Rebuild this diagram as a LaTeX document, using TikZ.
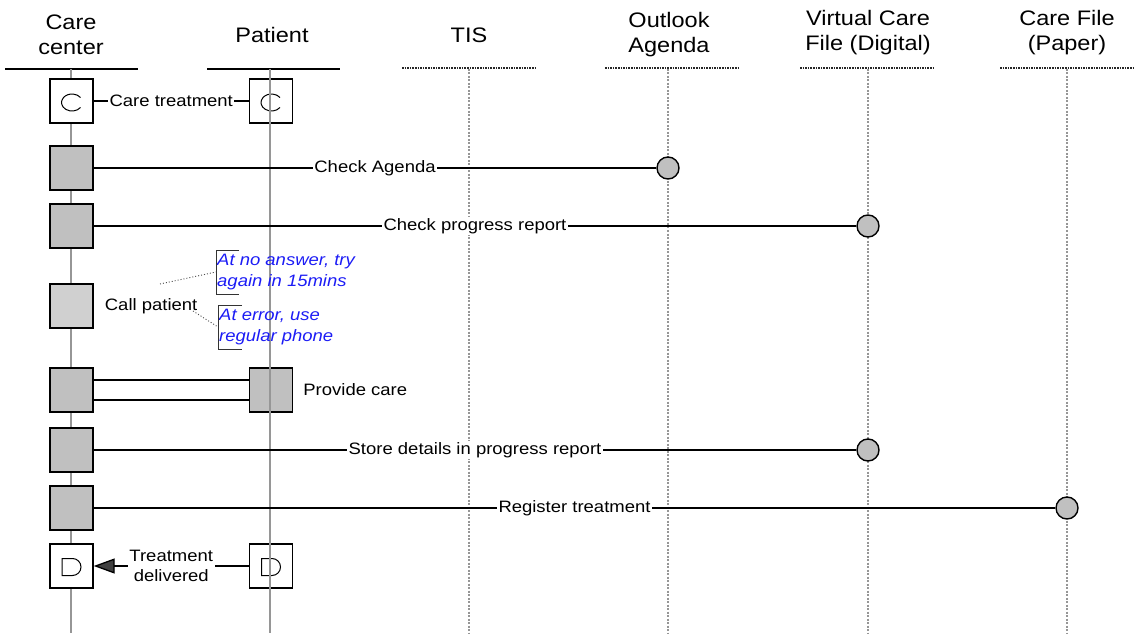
\documentclass[tikz,border=0pt]{standalone}
\usepackage{fontspec}
\setmainfont{Liberation Sans}[FakeStretch=1.12]
\usetikzlibrary{arrows.meta,calc}

\definecolor{boxgrey}{RGB}{192,192,192}
\definecolor{callgrey}{RGB}{208,208,208}
\definecolor{lifegrey}{RGB}{150,150,150}
\definecolor{noteblue}{RGB}{28,28,245}

\begin{document}
\begin{tikzpicture}[x=1pt,y=-1pt,
  title/.style={font=\fontsize{21}{25}\selectfont, align=center, inner sep=0pt},
  lbl/.style={font=\fontsize{16.5}{20}\selectfont, fill=white, inner xsep=1.5pt, inner ysep=1pt},
  txt/.style={font=\fontsize{16.5}{20}\selectfont, inner sep=0pt},
  act/.style={draw=black, line width=1.4pt, minimum width=43pt, minimum height=44pt, inner sep=0pt, fill=white},
  actg/.style={act, fill=boxgrey},
  store/.style={circle, draw=black, line width=1.4pt, fill=boxgrey, minimum size=22pt, inner sep=0pt},
  life/.style={draw=lifegrey, line width=1.3pt},
  lifedot/.style={draw=lifegrey, line width=1.3pt, dash pattern=on 2pt off 1.5pt},
  head/.style={draw=black, line width=1.3pt},
  headdot/.style={draw=black!85, line width=1.3pt, dash pattern=on 1.6pt off 1pt},
  msg/.style={draw=black, line width=1.3pt},
  glyph/.style={draw=black, line width=1pt},
  note/.style={font=\fontsize{16.5}{21}\selectfont\itshape, text=noteblue, align=left, inner xsep=1pt, inner ysep=0pt},
  bracket/.style={draw=black!80, line width=1pt},
  hint/.style={draw=black!70, line width=0.9pt, dash pattern=on 1pt off 2pt}
]
\useasboundingbox (0,0) rectangle (1139,636);

% column titles
\node[title] (tcc) at (71,35)   {Care\\center};
\node[title] (tpt) at (272,35)  {Patient};
\node[title] (ttis) at (469,35) {TIS};
\node[title] (tol) at (669,35)  {Outlook\\Agenda};
\node[title] (tvc) at (868,33)  {Virtual Care\\File (Digital)};
\node[title] (tcf) at (1067,33) {Care File\\(Paper)};

% header rules
\draw[head] (5,69) -- (138,69);
\draw[head] (207,69) -- (340,69);
\draw[headdot] (402,68) -- (537,68);
\draw[headdot] (605,68) -- (738,68);
\draw[headdot] (800,68) -- (935,68);
\draw[headdot] (1000,68) -- (1135,68);

% lifeline end points
\coordinate (cctop) at (71,69);   \coordinate (ccbot) at (71,633);
\coordinate (pttop) at (270,69);  \coordinate (ptbot) at (270,633);
\coordinate (tistop) at (469,69); \coordinate (tisbot) at (469,633);
\coordinate (oltop) at (668,69);  \coordinate (olbot) at (668,633);
\coordinate (vctop) at (868,69);  \coordinate (vcbot) at (868,633);
\coordinate (cftop) at (1067,69); \coordinate (cfbot) at (1067,633);

\draw[lifedot] (tistop) -- (tisbot);
\draw[lifedot] (oltop) -- (olbot);
\draw[lifedot] (vctop) -- (vcbot);
\draw[lifedot] (cftop) -- (cfbot);
\draw[life] (cctop) -- (ccbot);

% care center activities
\node[act]  (cc0) at (71.5,101) {};
\node[actg] (cc1) at (71.5,168) {};
\node[actg] (cc2) at (71.5,226) {};
\node[act, fill=callgrey] (cc3) at (71.5,306) {};
\node[actg] (cc4) at (71.5,390) {};
\node[actg] (cc5) at (71.5,450) {};
\node[actg] (cc6) at (71.5,508) {};
\node[act]  (cc7) at (71.5,566) {};

% patient activities
\node[act]  (pt0) at (271,101) {};
\node[actg] (pt4) at (271,390) {};
\node[act]  (pt7) at (271,566) {};

% data stores
\node[store] (ol1) at (668,168) {};
\node[store] (vc2) at (868,226) {};
\node[store] (vc5) at (868,450) {};
\node[store] (cf6) at (1067,508) {};

% start (C) and delivery (D) marks
\foreach \b in {cc0,pt0}
  \draw[glyph] ([shift={(9,6.5)}]\b.center)
    arc[start angle=36, end angle=324, x radius=10.5, y radius=8.5];
\foreach \b in {cc7,pt7}
  \draw[glyph] ([shift={(-9.5,-7.5)}]\b.center) -- ++(10.5,0)
    arc[start angle=270, end angle=450, radius=8.5] -- ++(-10.5,0) -- cycle;

\draw[life] (pttop) -- (ptbot);

% messages
\draw[msg] (cc0.east) -- node[lbl] {Care treatment} (pt0.west);
\draw[msg] (cc1.east) -- node[lbl] {Check Agenda} (ol1.west);
\draw[msg] (cc2.east) -- node[lbl] {Check progress report} (vc2.west);
\draw[msg] ([yshift=10pt]cc4.east) -- ([yshift=10pt]pt4.west);
\draw[msg] ([yshift=-10pt]cc4.east) -- ([yshift=-10pt]pt4.west);
\draw[msg] (cc5.east) -- node[lbl] {Store details in progress report} (vc5.west);
\draw[msg] (cc6.east) -- node[lbl] {Register treatment} (cf6.west);
\draw[msg, -{Triangle[length=21pt, width=15pt, fill=black!75]}]
  (pt7.west) -- node[lbl, align=center, font=\fontsize{16.5}{20.5}\selectfont] {Treatment\\delivered} (cc7.east);

% activity captions
\node[txt, anchor=west] (cpl) at ([xshift=11pt]cc3.east) {Call patient};
\node[txt, anchor=west] (pcl) at ([xshift=10pt]pt4.east) {Provide care};

% annotations
\node[note, anchor=west] (n1) at (216,272) {At no answer, try\\again in 15mins};
\node[note, anchor=west] (n2) at (218,327) {At error, use\\regular phone};
\draw[bracket] ([shift={(23,-22)}]n1.west) -- ([shift={(0,-22)}]n1.west)
  -- ([shift={(0,22)}]n1.west) -- ([shift={(23,22)}]n1.west);
\draw[bracket] ([shift={(24,-22)}]n2.west) -- ([shift={(0,-22)}]n2.west)
  -- ([shift={(0,22)}]n2.west) -- ([shift={(24,22)}]n2.west);
\coordinate (h1) at (160,284);
\coordinate (h2) at (193,311);
\draw[hint] (h1) -- (n1.west);
\draw[hint] (h2) -- (n2.west);
\end{tikzpicture}
\end{document}
